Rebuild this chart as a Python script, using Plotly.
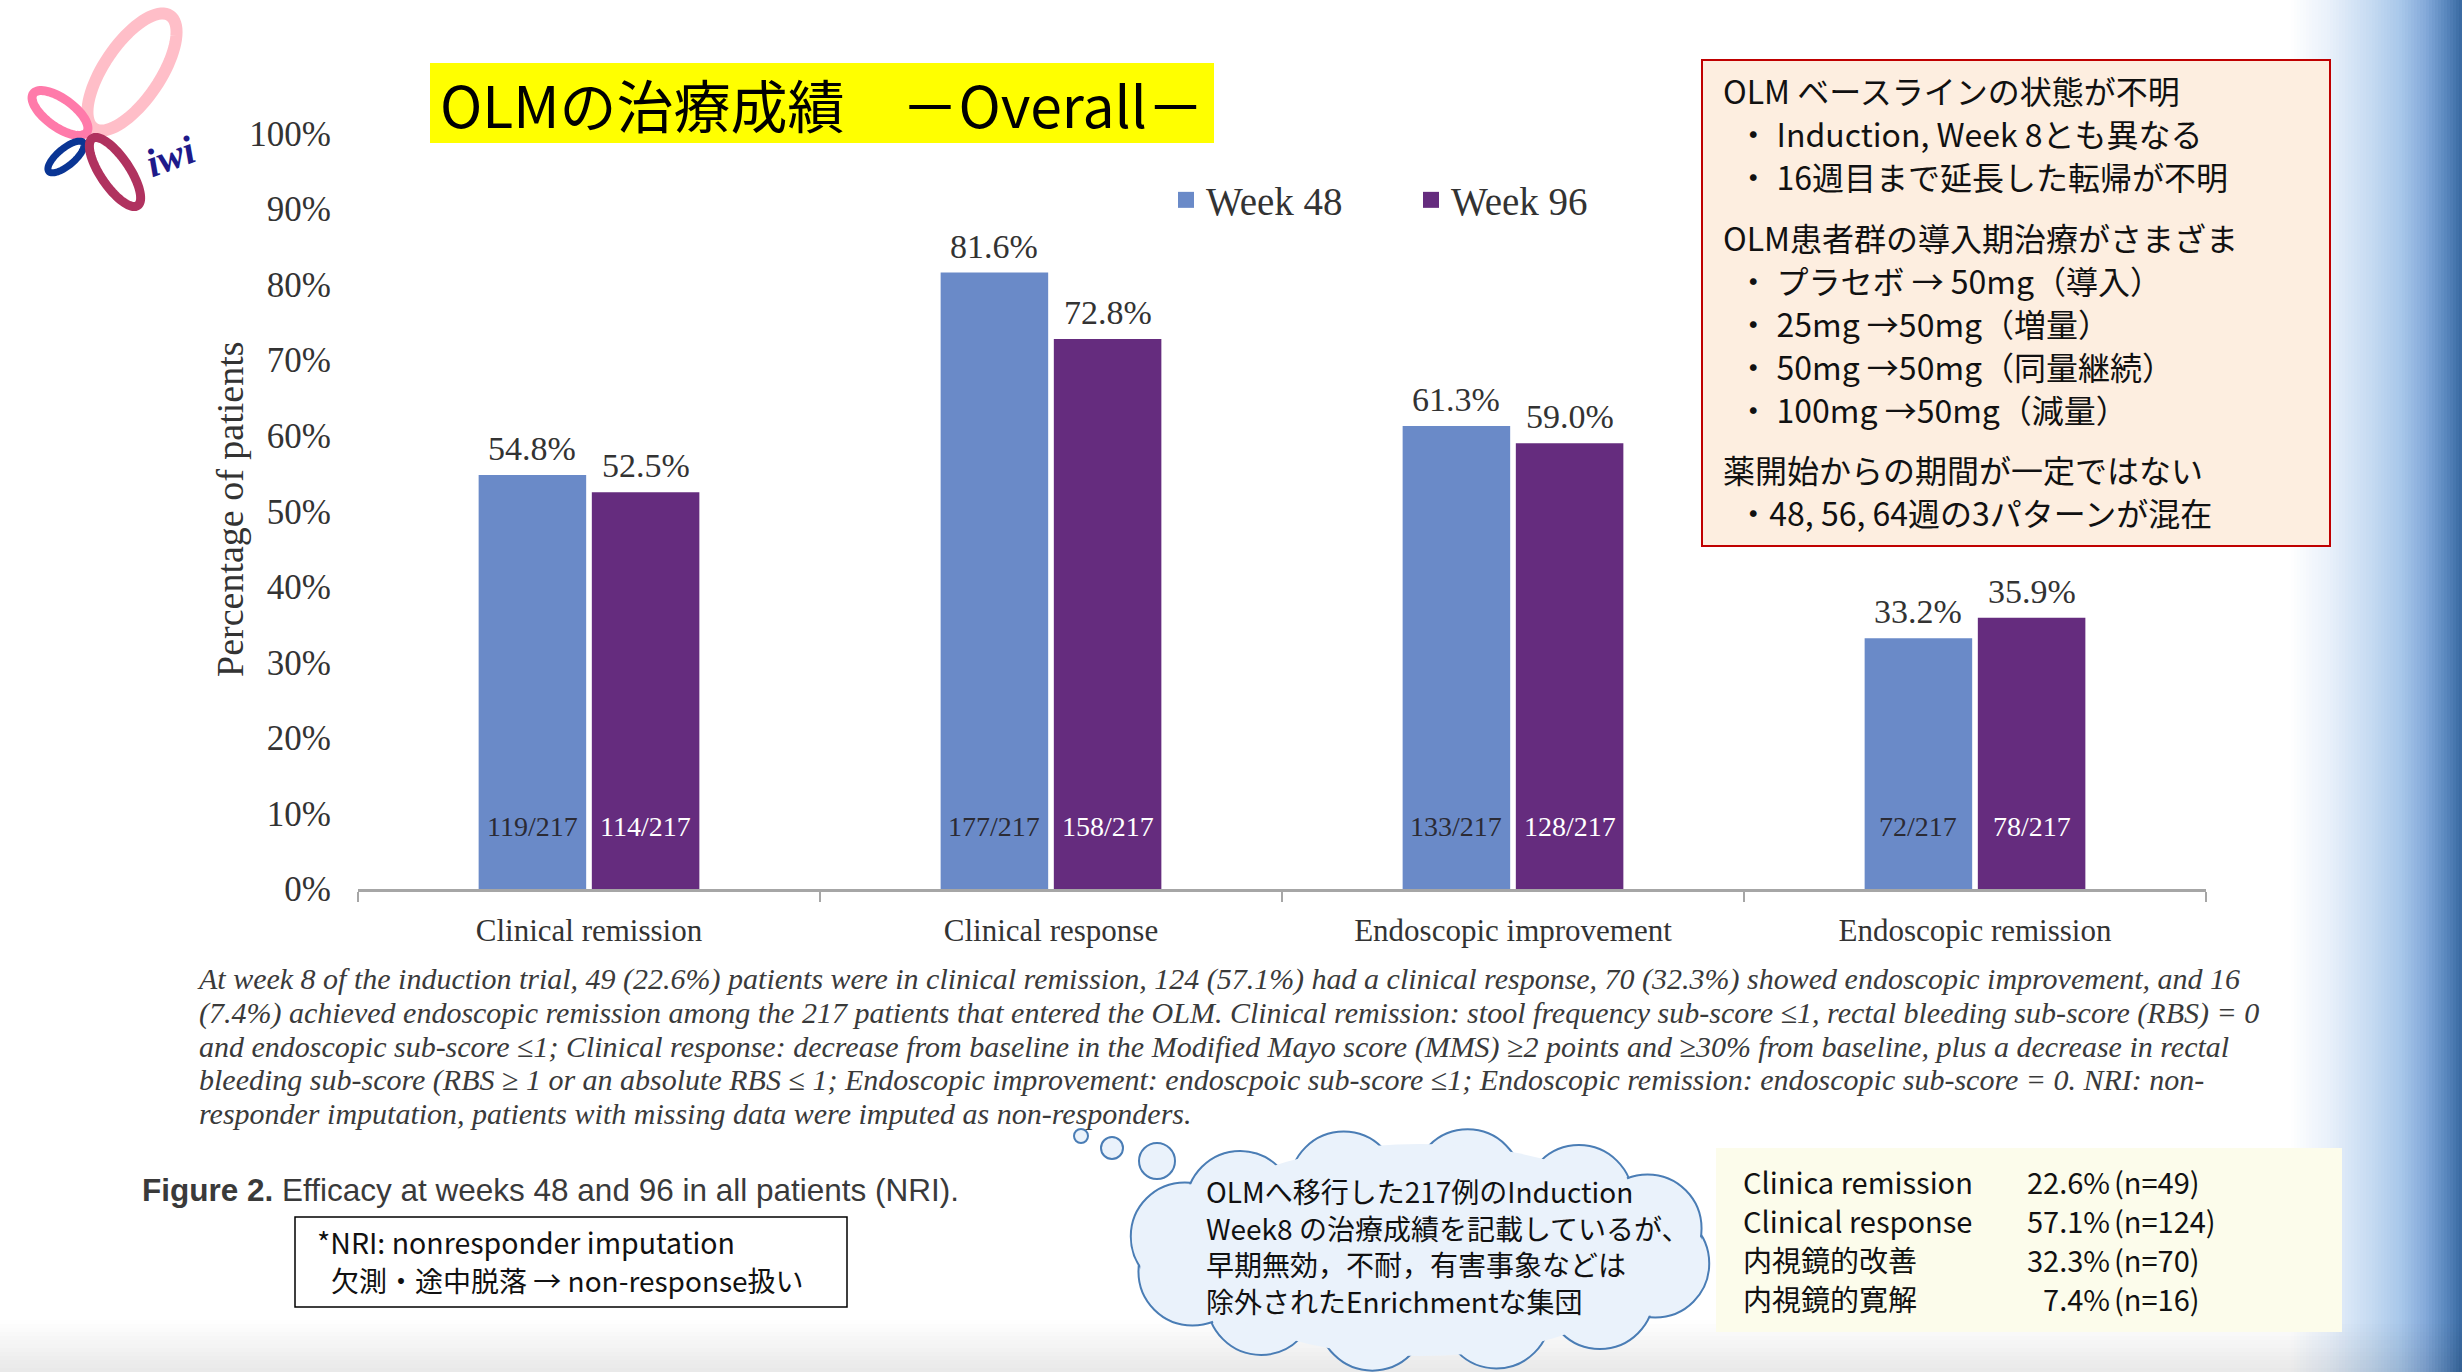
import numpy as np
import plotly.graph_objects as go

W, H = 2462, 1372

# ---------------- data ----------------
categories = ["Clinical remission", "Clinical response", "Endoscopic improvement", "Endoscopic remission"]
series_names = ["Week 48", "Week 96"]
week48_pct = [54.8, 81.6, 61.3, 33.2]
week96_pct = [52.5, 72.8, 59.0, 35.9]
week48_n = [119, 177, 133, 72]
week96_n = [114, 158, 128, 78]
total_n = 217
y_ticks = [0, 10, 20, 30, 40, 50, 60, 70, 80, 90, 100]

ind_labels = ["Clinica remission", "Clinical response", "内視鏡的改善", "内視鏡的寛解"]
ind_pct = [22.6, 57.1, 32.3, 7.4]
ind_n = [49, 124, 70, 16]

title_text = "OLMの治療成績　－Overall－"
box_groups = [
    ["OLM ベースラインの状態が不明",
     "・ Induction, Week 8とも異なる",
     "・ 16週目まで延長した転帰が不明"],
    ["OLM患者群の導入期治療がさまざま",
     "・ プラセボ → 50mg（導入）",
     "・ 25mg →50mg（増量）",
     "・ 50mg →50mg（同量継続）",
     "・ 100mg →50mg（減量）"],
    ["薬開始からの期間が一定ではない",
     "・48, 56, 64週の3パターンが混在"],
]
caption_lines = [
    "At week 8 of the induction trial, 49 (22.6%) patients were in clinical remission, 124 (57.1%) had a clinical response, 70 (32.3%) showed endoscopic improvement, and 16",
    "(7.4%) achieved endoscopic remission among the 217 patients that entered the OLM. Clinical remission: stool frequency sub-score ≤1, rectal bleeding sub-score (RBS) = 0",
    "and endoscopic sub-score ≤1; Clinical response: decrease from baseline in the Modified Mayo score (MMS) ≥2 points and ≥30% from baseline, plus a decrease in rectal",
    "bleeding sub-score (RBS ≥ 1 or an absolute RBS ≤ 1; Endoscopic improvement: endoscpoic sub-score ≤1; Endoscopic remission: endoscopic sub-score = 0. NRI: non-",
    "responder imputation, patients with missing data were imputed as non-responders.",
]
figure_caption_bold = "Figure 2."
figure_caption = " Efficacy at weeks 48 and 96 in all patients (NRI)."
note_lines = ["*NRI: nonresponder imputation", "欠測・途中脱落 → non-response扱い"]
cloud_lines = [
    "OLMへ移行した217例のInduction",
    "Week8 の治療成績を記載しているが、",
    "早期無効，不耐，有害事象などは",
    "除外されたEnrichmentな集団",
]

# ---------------- helpers ----------------
def px(x):
    return x / W

def py(y):
    return 1 - y / H

SERIF = "Liberation Serif"
JP = "Noto Sans CJK JP"
SANS = "Liberation Sans"
BLUE = "#6A8AC8"
PURPLE = "#652C7E"
TXT = "#333333"
NB = "\u00a0"

X0, X1 = 358, 2206
Y0, Y100 = 889, 133.5
BARGAP, GROUPGAP = 0.51, 0.05
COUNT_Y = 8.3

fig = go.Figure()
fig.add_trace(go.Bar(x=categories, y=week48_pct, name=series_names[0],
                     marker=dict(color=BLUE, line=dict(width=0)), showlegend=False))
fig.add_trace(go.Bar(x=categories, y=week96_pct, name=series_names[1],
                     marker=dict(color=PURPLE, line=dict(width=0)), showlegend=False))
for nm, col in zip(series_names, [BLUE, PURPLE]):
    fig.add_trace(go.Scatter(x=[None], y=[None], mode="markers", name=nm,
                             marker=dict(symbol="square", size=16, color=col)))

annotations = []
cat_w = (X1 - X0) / len(categories)
slot = cat_w * (1 - BARGAP) / 2
shift = slot / 2
for i, c in enumerate(categories):
    for v, n, sgn, col in [(week48_pct[i], week48_n[i], -1, "#2B2B35"),
                           (week96_pct[i], week96_n[i], 1, "white")]:
        annotations.append(dict(x=c, y=v, xref="x", yref="y", text=f"{v:.1f}%", showarrow=False,
                                xshift=sgn * shift, yanchor="bottom", yshift=6,
                                font=dict(family=SERIF, size=34, color=TXT)))
        annotations.append(dict(x=c, y=COUNT_Y, xref="x", yref="y", text=f"{n}/{total_n}",
                                showarrow=False, xshift=sgn * shift, yanchor="middle",
                                font=dict(family=SERIF, size=28, color=col)))

def ann(text, x, y, size, family=JP, color="#000000", xanchor="left", yanchor="middle", angle=0, align="left"):
    annotations.append(dict(text=text, x=px(x), y=py(y), xref="paper", yref="paper", showarrow=False,
                            xanchor=xanchor, yanchor=yanchor, textangle=angle, align=align,
                            font=dict(family=family, size=size, color=color)))

def block(lines, x, y_first, base, content, family=JP, color="#111111", xanchor="left", align="left", wrap=None):
    """Multi-line text: line pitch = 1.3*base, glyphs drawn at `content` px."""
    sizes = content if isinstance(content, list) else [content] * len(lines)
    parts = []
    for l, s in zip(lines, sizes):
        t = f"<span style='font-size:{s}px'>{l}</span>"
        if wrap:
            t = wrap(t)
        parts.append(t)
    pitch = 1.3 * base
    yc = y_first + (len(lines) - 1) * pitch / 2
    ann("<br>".join(parts), x, yc, base, family, color, xanchor, "middle", 0, align)

# axis title
ann("Percentage of patients", 230, 509, 38, SERIF, TXT, "center", "middle", -90)

# title
ann(title_text, 822, 103, 57, JP, "#000000", "center")

# right box
for grp, y_first in zip(box_groups, [90, 237, 469]):
    lines = [grp[0]] + [NB + NB + l for l in grp[1:]]
    block(lines, 1721, y_first, 33, 32)

# caption paragraph
block(caption_lines, 195, 978, 26, 30, SERIF, "#3A3A3A", wrap=lambda t: f"<i>{t}</i>")

ann(f"<b>{figure_caption_bold}</b>{figure_caption}", 140, 1190, 31.5, SANS, "#3A3A3A")

block([note_lines[0], "\u2002" + note_lines[1]], 315, 1242, 29, [28.5, 28])

block(cloud_lines, 1204, 1191, 28.2, 28)

block(ind_labels, 1741, 1181, 30, 29)
block([f"{p:.1f}%" for p in ind_pct], 2112, 1181, 30, 29, xanchor="right", align="right")
block([f"(n={n})" for n in ind_n], 2112, 1181, 30, 29)

# logo text
ann("<b><i>iwi</i></b>", 170, 157, 40, SERIF, "#1E1A8A", "center", "middle", -20)

# ---------------- shapes ----------------
shapes = []

def rect(x0, y0, x1, y1, fill, line_color=None, lw=0, layer="above"):
    shapes.append(dict(type="rect", xref="paper", yref="paper", x0=px(x0), x1=px(x1), y0=py(y1), y1=py(y0),
                       fillcolor=fill, line=dict(color=line_color or fill, width=lw), layer=layer))

def circle(cx, cy, r, fill, line_color=None, lw=0):
    shapes.append(dict(type="circle", xref="paper", yref="paper", x0=px(cx - r), x1=px(cx + r),
                       y0=py(cy + r), y1=py(cy - r), fillcolor=fill,
                       line=dict(color=line_color or fill, width=lw), layer="above"))

def lerp_color(stops, t):
    t = min(max(t, stops[0][0]), stops[-1][0])
    for (p0, c0), (p1, c1) in zip(stops[:-1], stops[1:]):
        if p0 <= t <= p1:
            f = (t - p0) / (p1 - p0) if p1 > p0 else 0
            c = [int(round(a + (b - a) * f)) for a, b in zip(c0, c1)]
            return f"rgb({c[0]},{c[1]},{c[2]})"
    c = stops[-1][1]
    return f"rgb({c[0]},{c[1]},{c[2]})"

# right blue gradient
blue_stops = [(2290, (255, 255, 255)), (2330, (232, 240, 250)), (2370, (198, 219, 242)),
              (2400, (169, 200, 234)), (2425, (133, 170, 218)), (2445, (91, 137, 191)),
              (2462, (56, 104, 160))]
for k in range(58):
    x0 = 2288 + k * 3
    rect(x0, 0, x0 + 3.3, H, lerp_color(blue_stops, x0 + 1.5), layer="below")

# bottom gray fade (translucent so it shades the gradient too)
for k in range(13):
    y0 = 1320 + k * 4
    alpha = 0.09 * (k + 0.5) / 13
    rect(0, y0, W, y0 + 4, f"rgba(0,0,0,{alpha:.4f})", layer="below")

# logo ellipses
def ellipse_path(cx, cy, a, b, ang_deg, n=80):
    t = np.linspace(0, 2 * np.pi, n, endpoint=False)
    ang = np.radians(ang_deg)
    xs = cx + a * np.cos(t) * np.cos(ang) - b * np.sin(t) * np.sin(ang)
    ys = cy + a * np.cos(t) * np.sin(ang) + b * np.sin(t) * np.cos(ang)
    pts = [f"{px(x):.5f},{py(y):.5f}" for x, y in zip(xs, ys)]
    return "M" + " L".join(pts) + " Z"

for (cx, cy, a, b, ang, col, lw) in [
    (132, 72, 68, 28, -56, "#FFBEC8", 12),
    (60, 113, 33, 14, 36, "#FF7AAA", 9),
    (66, 157, 22.5, 8.5, -40, "#0A3594", 7),
    (115, 172, 40.5, 14.5, 56, "#B0325F", 9),
]:
    shapes.append(dict(type="path", xref="paper", yref="paper", path=ellipse_path(cx, cy, a, b, ang),
                       line=dict(color=col, width=lw), fillcolor="rgba(0,0,0,0)", layer="above"))

# title box
rect(430, 63, 1214, 143, "#FFFF00", layer="below")
# right note box
rect(1702, 60, 2330, 546, "#FDEEE0", "#C00000", 2)
# NRI box
rect(295, 1217, 847, 1307, "#FFFFFF", "#000000", 1.5)
# table box
rect(1716, 1148, 2342, 1332, "#FCFCEB")

# cloud
CL_LINE, CL_FILL = "#4A7DB5", "#EAF2FB"
ccx, ccy, cax, cay, cr = 1420, 1250, 240, 68, 54
lobes = [(ccx + cax * np.cos(2 * np.pi * k / 12 + 0.2), ccy + cay * np.sin(2 * np.pi * k / 12 + 0.2)) for k in range(12)]
for bx, by, br in [(1081, 1136, 7), (1112, 1148, 11), (1157, 1161, 18)]:
    circle(bx, by, br, CL_FILL, CL_LINE, 2)
for lx, ly in lobes:
    circle(lx, ly, cr, CL_FILL, CL_LINE, 2)
for lx, ly in lobes:
    circle(lx, ly, cr - 1.6, CL_FILL, None, 0)
shapes.append(dict(type="circle", xref="paper", yref="paper", x0=px(ccx - cax), x1=px(ccx + cax),
                   y0=py(ccy + cay + 38), y1=py(ccy - cay - 38), fillcolor=CL_FILL,
                   line=dict(width=0, color=CL_FILL), layer="above"))

fig.update_layout(
    template="none",
    width=W, height=H, margin=dict(l=0, r=0, t=0, b=0, pad=0, autoexpand=False), autosize=False,
    paper_bgcolor="white", plot_bgcolor="rgba(0,0,0,0)",
    barmode="group", bargap=BARGAP, bargroupgap=GROUPGAP,
    showlegend=True,
    legend=dict(orientation="h", x=px(1166), xanchor="left", y=py(168), yanchor="top",
                font=dict(family=SERIF, size=39, color=TXT), bgcolor="rgba(0,0,0,0)", borderwidth=0,
                entrywidth=200, entrywidthmode="pixels", itemsizing="trace"),
    xaxis=dict(domain=[px(X0), px(X1)], type="category", range=[-0.5, len(categories) - 0.5],
               showline=True, linecolor="#A6A6A6", linewidth=3, ticks="outside", tickson="boundaries",
               ticklen=10, tickwidth=2, tickcolor="#A6A6A6", showgrid=False, zeroline=False,
               tickfont=dict(family=SERIF, size=31, color=TXT), ticklabelstandoff=12, fixedrange=True,
               automargin=False),
    yaxis=dict(domain=[py(Y0), py(Y100)], range=[0, 100], tickvals=y_ticks,
               ticktext=[f"{t}%" for t in y_ticks], showline=False, showgrid=False, zeroline=False,
               ticks="", tickfont=dict(family=SERIF, size=35, color=TXT), ticklabelstandoff=26,
               fixedrange=True, automargin=False),
    shapes=shapes, annotations=annotations, hovermode=False,
)

fig.write_html("out.html", config={"displayModeBar": False})
